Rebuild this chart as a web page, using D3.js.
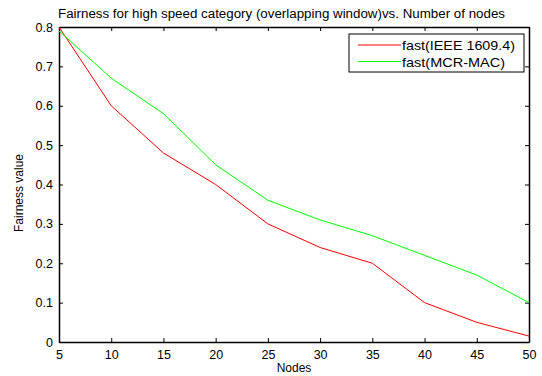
<!DOCTYPE html>
<html>
<head>
<meta charset="utf-8">
<script src="https://cdn.jsdelivr.net/npm/d3@7"></script>
<style>
  body { margin: 0; background: #fff; }
  text { font-family: "Liberation Sans", Arial, sans-serif; }
</style>
</head>
<body>
<div id="chart"></div>
<script>
// Data
const nodes = [5, 10, 15, 20, 25, 30, 35, 40, 45, 50];
const fastIeee = [0.80, 0.60, 0.48, 0.40, 0.30, 0.24, 0.20, 0.10, 0.05, 0.015];
const fastMcr = [0.79, 0.67, 0.58, 0.45, 0.36, 0.31, 0.27, 0.22, 0.17, 0.10];
const yTicks = [0, 0.1, 0.2, 0.3, 0.4, 0.5, 0.6, 0.7, 0.8];
const seriesNames = ['fast(IEEE 1609.4)', 'fast(MCR-MAC)'];
const seriesColors = ['#ff0000', '#00ff00'];

const width = 542, height = 376;
const margin = { left: 59, right: 13, top: 27, bottom: 34 };

const svg = d3.select('#chart').append('svg')
  .attr('width', width)
  .attr('height', height);

const x = d3.scaleLinear().domain([5, 50]).range([margin.left, width - margin.right]);
const y = d3.scaleLinear().domain([0, 0.8]).range([height - margin.bottom, margin.top]);

// Axes with inward ticks (MATLAB style)
const tickLen = 4;
const xAxis = svg.append('g')
  .attr('transform', `translate(0,${y(0)})`)
  .call(d3.axisBottom(x).tickValues(nodes).tickSizeInner(-tickLen).tickSizeOuter(0).tickPadding(8));
const yAxis = svg.append('g')
  .attr('transform', `translate(${x(5)},0)`)
  .call(d3.axisLeft(y).tickValues(yTicks).tickSizeInner(-tickLen).tickSizeOuter(0).tickPadding(6)
    .tickFormat(d => d === 0 ? '0' : d3.format('.1f')(d)));
const xTop = svg.append('g')
  .attr('transform', `translate(0,${y(0.8)})`)
  .call(d3.axisTop(x).tickValues(nodes).tickSizeInner(-tickLen).tickSizeOuter(0).tickFormat(''));
const yRight = svg.append('g')
  .attr('transform', `translate(${x(50)},0)`)
  .call(d3.axisRight(y).tickValues(yTicks).tickSizeInner(-tickLen).tickSizeOuter(0).tickFormat(''));

[xAxis, yAxis].forEach(g => {
  g.selectAll('text').attr('font-size', 12.5).attr('fill', '#000')
    .style('font-family', '"Liberation Sans", Arial, sans-serif');
});
[xAxis, yAxis, xTop, yRight].forEach(g => {
  g.select('.domain').attr('stroke', '#000').attr('stroke-width', 1.5);
  g.selectAll('.tick line').attr('stroke', '#000');
});

// Lines
const line = d3.line().x((d, i) => x(nodes[i])).y(d => y(d));
[fastIeee, fastMcr].forEach((s, i) => {
  svg.append('path')
    .datum(s)
    .attr('fill', 'none')
    .attr('stroke', seriesColors[i])
    .attr('stroke-width', 1)
    .attr('d', line);
});

// Title and labels
svg.append('text')
  .attr('x', 58)
  .attr('y', 18)
  .attr('font-size', 12.5)
  .attr('textLength', 447)
  .attr('lengthAdjust', 'spacingAndGlyphs')
  .text('Fairness for high speed category (overlapping window)vs. Number of nodes');

svg.append('text')
  .attr('x', 294)
  .attr('y', 372)
  .attr('text-anchor', 'middle')
  .attr('font-size', 12)
  .text('Nodes');

svg.append('text')
  .attr('transform', 'translate(23,193) rotate(-90)')
  .attr('text-anchor', 'middle')
  .attr('font-size', 12)
  .text('Fairness value');

// Legend
const legend = svg.append('g').attr('transform', 'translate(349,34)');
legend.append('rect')
  .attr('width', 175).attr('height', 38)
  .attr('fill', '#fff').attr('stroke', '#000').attr('stroke-width', 1);
const legendLens = [113, 103];
seriesNames.forEach((name, i) => {
  const ly = 11 + i * 16.5;
  legend.append('line')
    .attr('x1', 9).attr('x2', 52).attr('y1', ly).attr('y2', ly)
    .attr('stroke', seriesColors[i]);
  legend.append('text')
    .attr('x', 53).attr('y', ly + 5)
    .attr('font-size', 13.5)
    .attr('textLength', legendLens[i])
    .attr('lengthAdjust', 'spacingAndGlyphs')
    .text(name);
});
</script>
</body>
</html>
